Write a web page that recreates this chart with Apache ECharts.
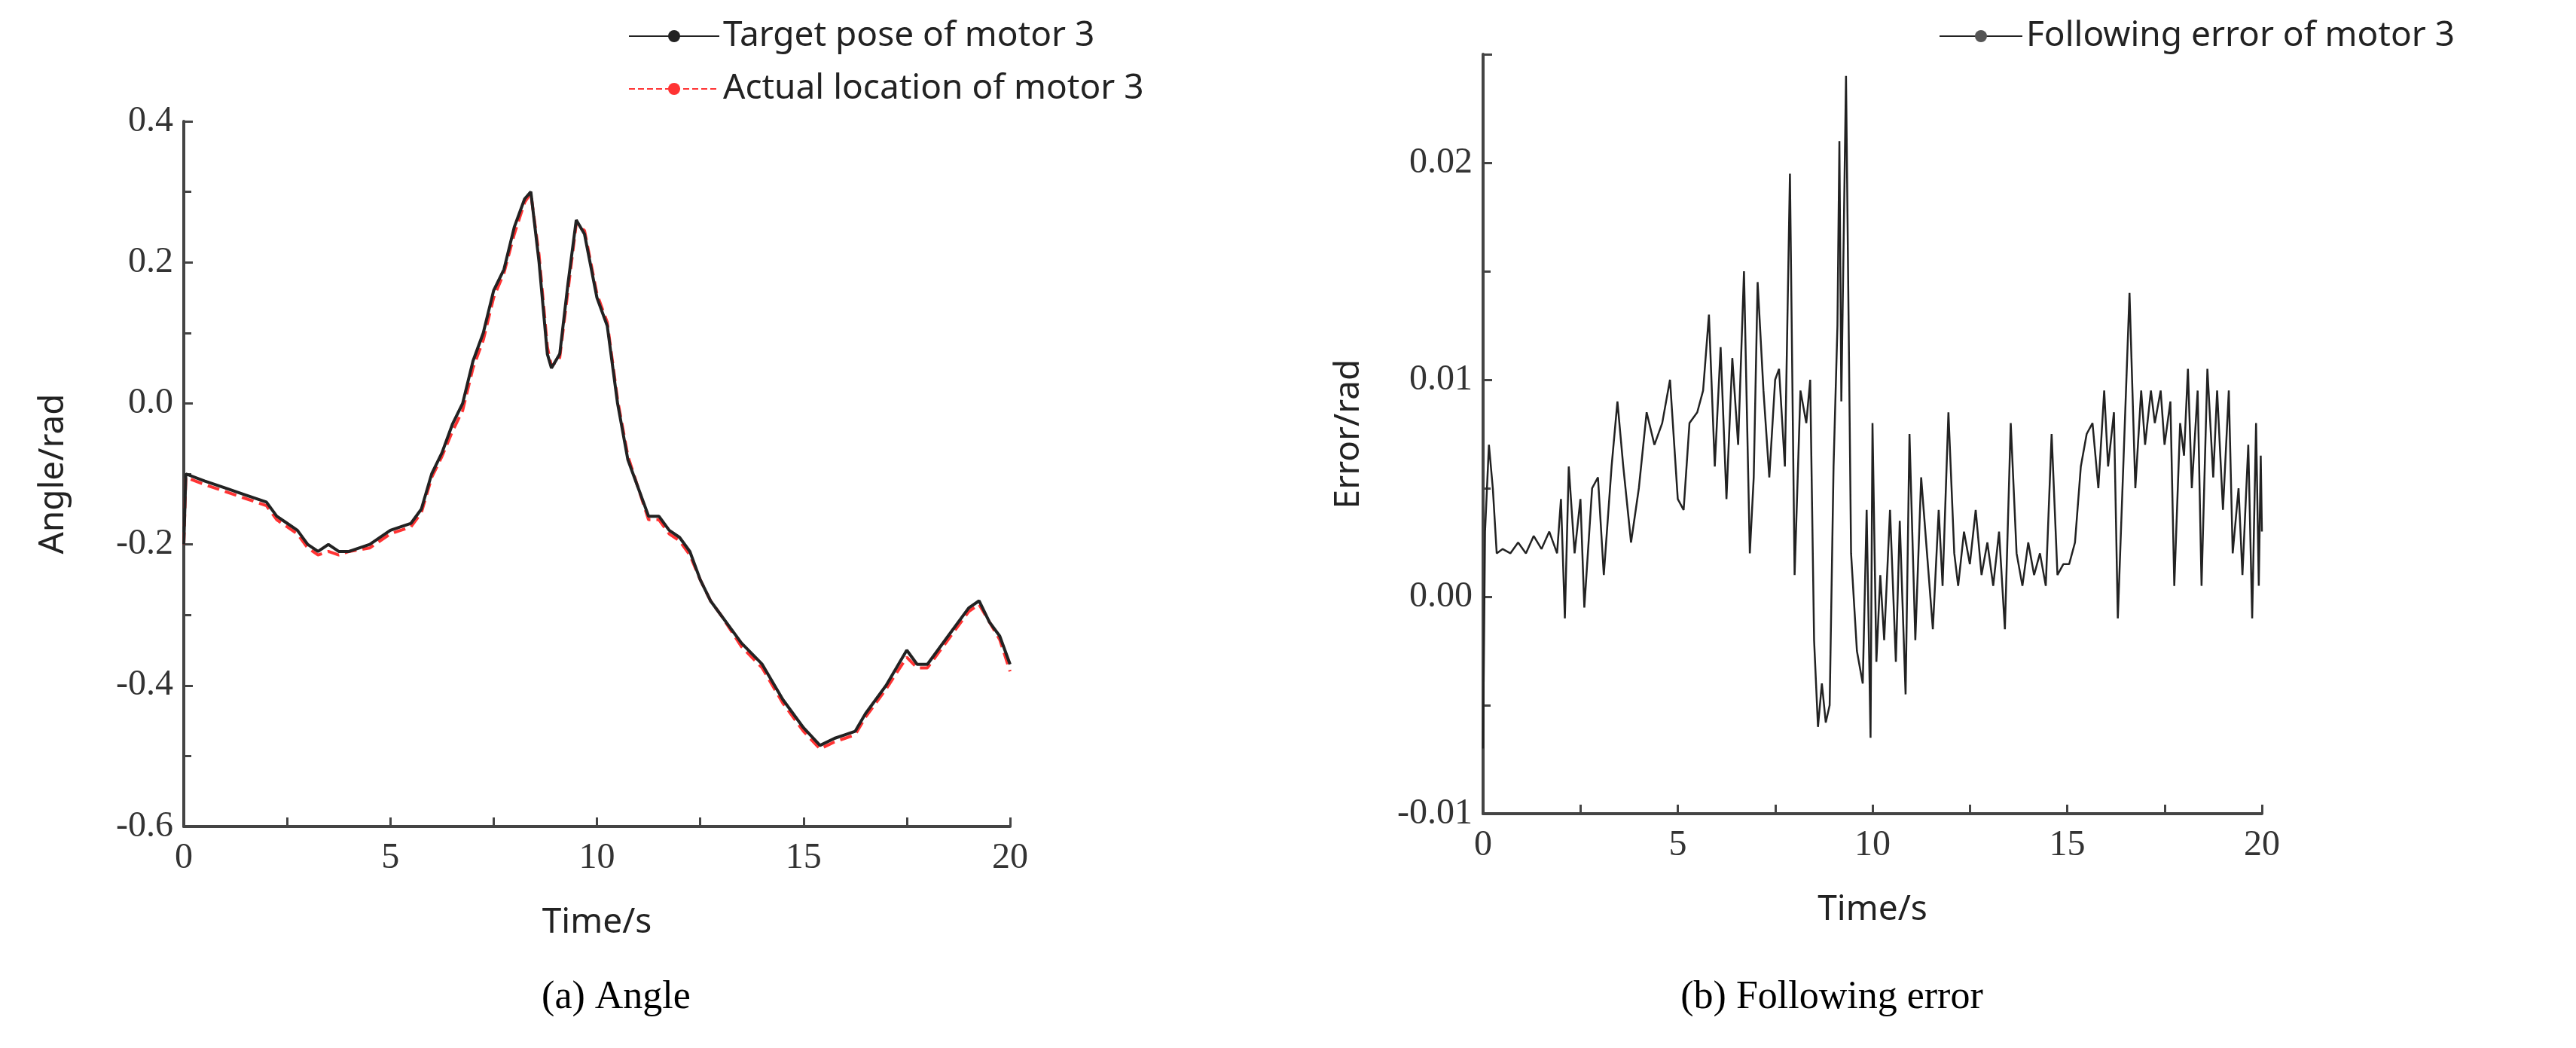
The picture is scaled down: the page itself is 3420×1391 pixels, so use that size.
<!DOCTYPE html>
<html><head><meta charset="utf-8">
<script src="https://cdn.jsdelivr.net/npm/echarts@6/dist/echarts.min.js"></script>
<style>html,body{margin:0;background:#fff}#c{width:3420px;height:1391px}</style>
</head><body><div id="c"></div>
<script>
const angleTarget = [[0,-0.2],[0.05,-0.10],[0.5,-0.11],[1,-0.12],[1.5,-0.13],[2,-0.14],[2.25,-0.16],[2.5,-0.17],[2.75,-0.18],[3,-0.2],[3.25,-0.21],[3.5,-0.2],[3.75,-0.21],[4,-0.21],[4.5,-0.2],[5,-0.18],[5.5,-0.17],[5.75,-0.15],[6,-0.1],[6.25,-0.07],[6.5,-0.03],[6.75,0.0],[7,0.06],[7.25,0.1],[7.5,0.16],[7.75,0.19],[8,0.25],[8.25,0.29],[8.4,0.3],[8.6,0.2],[8.8,0.07],[8.9,0.05],[9.1,0.07],[9.3,0.17],[9.5,0.26],[9.7,0.24],[10,0.15],[10.25,0.11],[10.5,0.0],[10.75,-0.08],[11,-0.12],[11.25,-0.16],[11.5,-0.16],[11.75,-0.18],[12,-0.19],[12.25,-0.21],[12.5,-0.25],[12.75,-0.28],[13,-0.3],[13.5,-0.34],[14,-0.37],[14.5,-0.42],[15,-0.46],[15.4,-0.485],[15.75,-0.475],[16,-0.47],[16.25,-0.465],[16.5,-0.44],[17,-0.4],[17.5,-0.35],[17.75,-0.37],[18,-0.37],[18.5,-0.33],[19,-0.29],[19.25,-0.28],[19.5,-0.31],[19.75,-0.33],[20,-0.37]];
const angleActual = [[0,-0.2],[0.05,-0.105],[0.5,-0.115],[1,-0.125],[1.5,-0.135],[2,-0.145],[2.25,-0.165],[2.5,-0.175],[2.75,-0.185],[3,-0.205],[3.25,-0.215],[3.5,-0.21],[3.75,-0.215],[4,-0.21],[4.5,-0.205],[5,-0.185],[5.5,-0.175],[5.75,-0.155],[6,-0.105],[6.25,-0.075],[6.5,-0.04],[6.75,-0.01],[7,0.05],[7.25,0.09],[7.5,0.15],[7.75,0.185],[8,0.24],[8.25,0.285],[8.4,0.298],[8.6,0.21],[8.8,0.08],[8.9,0.052],[9.1,0.065],[9.3,0.16],[9.5,0.255],[9.7,0.245],[10,0.155],[10.25,0.115],[10.5,0.005],[10.75,-0.075],[11,-0.12],[11.25,-0.165],[11.5,-0.165],[11.75,-0.185],[12,-0.195],[12.25,-0.215],[12.5,-0.25],[12.75,-0.28],[13,-0.3],[13.5,-0.345],[14,-0.375],[14.5,-0.425],[15,-0.465],[15.4,-0.49],[15.75,-0.48],[16,-0.475],[16.25,-0.47],[16.5,-0.445],[17,-0.405],[17.5,-0.36],[17.75,-0.375],[18,-0.375],[18.5,-0.335],[19,-0.295],[19.25,-0.285],[19.5,-0.31],[19.75,-0.335],[20,-0.38]];
const followError = [[0,-0.007],[0.05,0.003],[0.15,0.007],[0.25,0.005],[0.35,0.002],[0.5,0.0022],[0.7,0.002],[0.9,0.0025],[1.1,0.002],[1.3,0.0028],[1.5,0.0022],[1.7,0.003],[1.9,0.002],[2.0,0.0045],[2.1,-0.001],[2.2,0.006],[2.35,0.002],[2.5,0.0045],[2.6,-0.0005],[2.8,0.005],[2.95,0.0055],[3.1,0.001],[3.3,0.006],[3.45,0.009],[3.6,0.006],[3.8,0.0025],[4.0,0.005],[4.2,0.0085],[4.4,0.007],[4.6,0.008],[4.8,0.010],[5.0,0.0045],[5.15,0.004],[5.3,0.008],[5.5,0.0085],[5.65,0.0095],[5.8,0.013],[5.95,0.006],[6.1,0.0115],[6.25,0.0045],[6.4,0.011],[6.55,0.007],[6.7,0.015],[6.85,0.002],[6.95,0.0055],[7.05,0.0145],[7.2,0.0095],[7.35,0.0055],[7.5,0.010],[7.6,0.0105],[7.75,0.006],[7.88,0.0195],[8.0,0.001],[8.15,0.0095],[8.3,0.008],[8.4,0.010],[8.5,-0.002],[8.6,-0.006],[8.7,-0.004],[8.8,-0.0058],[8.9,-0.005],[9.0,0.006],[9.1,0.0125],[9.15,0.021],[9.2,0.009],[9.32,0.024],[9.45,0.002],[9.6,-0.0025],[9.75,-0.004],[9.85,0.004],[9.95,-0.0065],[10.0,0.008],[10.1,-0.003],[10.2,0.001],[10.3,-0.002],[10.45,0.004],[10.6,-0.003],[10.7,0.0035],[10.85,-0.0045],[10.95,0.0075],[11.1,-0.002],[11.25,0.0055],[11.4,0.002],[11.55,-0.0015],[11.7,0.004],[11.8,0.0005],[11.95,0.0085],[12.1,0.002],[12.2,0.0005],[12.35,0.003],[12.5,0.0015],[12.65,0.004],[12.8,0.001],[12.95,0.0025],[13.1,0.0005],[13.25,0.003],[13.4,-0.0015],[13.55,0.008],[13.7,0.002],[13.85,0.0005],[14.0,0.0025],[14.15,0.001],[14.3,0.002],[14.45,0.0005],[14.6,0.0075],[14.75,0.001],[14.9,0.0015],[15.05,0.0015],[15.2,0.0025],[15.35,0.006],[15.5,0.0075],[15.65,0.008],[15.8,0.005],[15.95,0.0095],[16.05,0.006],[16.2,0.0085],[16.3,-0.001],[16.45,0.0065],[16.6,0.014],[16.75,0.005],[16.9,0.0095],[17.0,0.007],[17.15,0.0095],[17.25,0.008],[17.4,0.0095],[17.5,0.007],[17.65,0.009],[17.75,0.0005],[17.9,0.008],[18.0,0.0065],[18.1,0.0105],[18.2,0.005],[18.35,0.0095],[18.45,0.0005],[18.6,0.0105],[18.75,0.0055],[18.85,0.0095],[19.0,0.004],[19.15,0.0095],[19.25,0.002],[19.4,0.005],[19.5,0.001],[19.65,0.007],[19.75,-0.001],[19.85,0.008],[19.92,0.0005],[19.97,0.0065],[20,0.003]];
const xTicks = [0,5,10,15,20];
const captions = ['(a) Angle','(b) Following error'];

const serif = 'Liberation Serif', sans = 'Noto Sans';
function xAxis(gi){return {type:'value',gridIndex:gi,min:0,max:20,interval:5,name:'Time/s',nameLocation:'middle',nameGap:105,
  axisLine:{onZero:false,lineStyle:{color:'#444',width:4}},
  nameTextStyle:{fontFamily:sans,fontSize:46,color:'#222'},
  axisTick:{inside:true,length:12,lineStyle:{width:3,color:'#444'}},
  minorTick:{show:true,splitNumber:2,length:12,lineStyle:{width:3,color:'#444'}},
  splitLine:{show:false},axisLabel:{fontFamily:serif,fontSize:48,color:'#333',margin:18}};}
function yAxis(gi,o){return Object.assign({type:'value',gridIndex:gi,nameLocation:'middle',
  nameTextStyle:{fontFamily:sans,fontSize:46,color:'#222'},
  axisLine:{show:true,onZero:false,lineStyle:{color:'#444',width:4}},axisTick:{show:true,inside:true,length:12,lineStyle:{width:3,color:'#444'}},
  minorTick:{show:true,splitNumber:2,length:10,lineStyle:{width:3,color:'#444'}},
  splitLine:{show:false}},o);}
const chart = echarts.init(document.getElementById('c'));
chart.setOption({
  animation:false,backgroundColor:'#fff',
  grid:[{left:244,width:1097,top:161,height:936},{left:1969,width:1034,top:72,height:1008}],
  legend:[{left:829,top:20,orient:'vertical',itemWidth:120,itemHeight:20,itemGap:24,textStyle:{fontFamily:sans,fontSize:46,color:'#222'},
     data:['Target pose of motor 3','Actual location of motor 3']},
    {left:2569,top:20,itemWidth:110,itemHeight:20,textStyle:{fontFamily:sans,fontSize:46,color:'#222'},data:['Following error of motor 3']}],
  xAxis:[xAxis(0),xAxis(1)],
  yAxis:[yAxis(0,{min:-0.6,max:0.4,interval:0.2,name:'Angle/rad',nameGap:150,axisLabel:{fontFamily:serif,fontSize:48,color:'#333',margin:14,formatter:v=>v.toFixed(1)}}),
         yAxis(1,{min:-0.01,max:0.025,interval:0.01,name:'Error/rad',nameGap:155,axisLabel:{fontFamily:serif,fontSize:48,color:'#333',margin:14,showMaxLabel:false,formatter:v=>v>0.021?'':v.toFixed(2)}})],
  series:[
    {name:'Target pose of motor 3',type:'line',xAxisIndex:0,yAxisIndex:0,data:angleTarget,symbol:'none',lineStyle:{color:'#222',width:4},itemStyle:{color:'#222'},z:3},
    {name:'Actual location of motor 3',type:'line',xAxisIndex:0,yAxisIndex:0,data:angleActual,symbol:'none',lineStyle:{color:'#ff3333',width:4,type:'dashed'},itemStyle:{color:'#ff3333'},z:2},
    {name:'Following error of motor 3',type:'line',xAxisIndex:1,yAxisIndex:1,data:followError,symbol:'none',lineStyle:{color:'#222',width:2.5},itemStyle:{color:'#555'}}
  ],
  graphic:[
    {type:'text',style:{text:captions[0],x:818,y:1324,align:'center',verticalAlign:'middle',font:'52px "Liberation Serif"',fill:'#000'}},
    {type:'text',style:{text:captions[1],x:2432,y:1324,align:'center',verticalAlign:'middle',font:'52px "Liberation Serif"',fill:'#000'}}
  ]
});
</script></body></html>
